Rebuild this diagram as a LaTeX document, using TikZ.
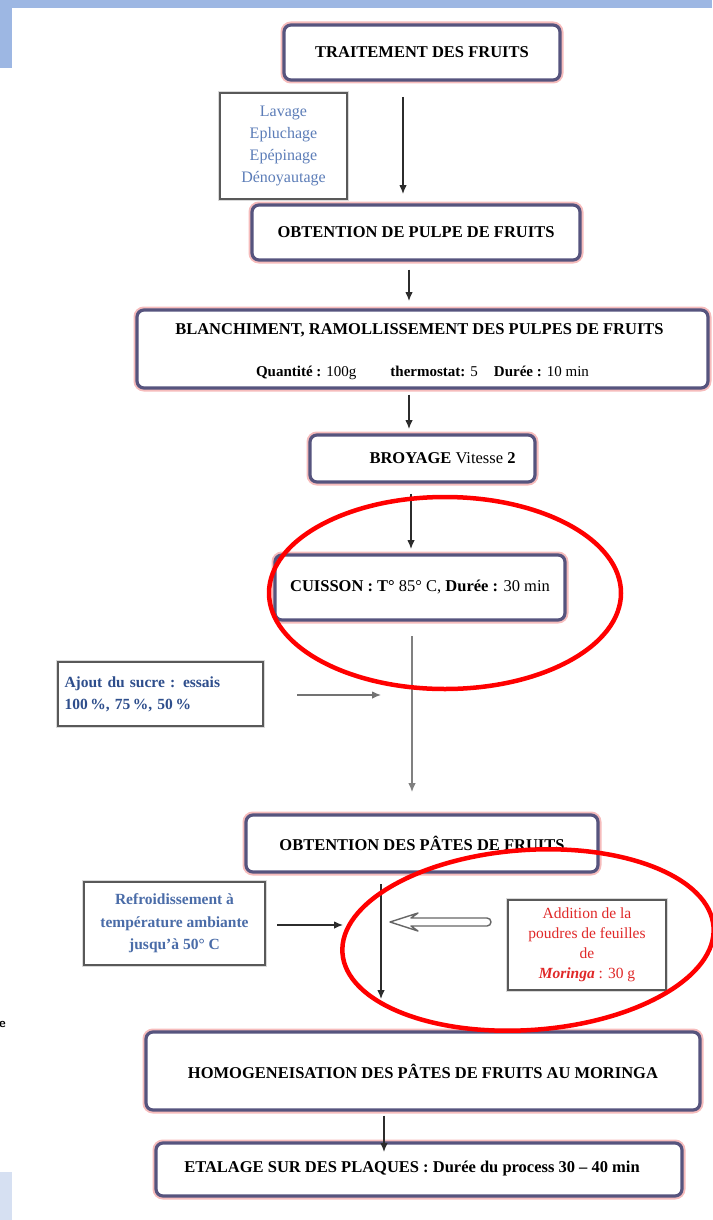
\documentclass[tikz,border=0pt]{standalone}
\usepackage{fontspec}
\setmainfont{Liberation Serif}
\usetikzlibrary{arrows.meta}
\definecolor{barblue}{HTML}{9DB7E3}
\definecolor{lightbar}{HTML}{D6E0F2}
\definecolor{frame}{HTML}{56547E}
\definecolor{glow}{HTML}{F6BCBC}
\definecolor{txtblue}{HTML}{5C7DB8}
\definecolor{darkblue}{HTML}{2E4E8C}
\definecolor{midblue}{HTML}{4A6CA8}
\definecolor{redtxt}{HTML}{E02828}
\definecolor{linegray}{HTML}{2C2C2C}
\tikzset{
  stepbox/.style={draw=frame, line width=3.2pt, rounded corners=7pt, fill=white,
    preaction={draw=glow, line width=7pt},
    inner sep=0pt, font=\fontsize{16.5}{18}\selectfont\bfseries},
  sidebox/.style={draw=black!65, line width=1.8pt, fill=white, inner sep=0pt,
    preaction={draw=black!15, line width=3.5pt}},
  conn/.style={draw=linegray, line width=1.1pt, -{Latex[length=9pt,width=7.5pt]}},
  circle mark/.style={draw=red, line width=4.5pt},
}
\begin{document}
\begin{tikzpicture}[x=1pt,y=-1pt]
\useasboundingbox (0,0) rectangle (712,1220);
% decorative bars
\fill[barblue] (0,0) rectangle (712,8);
\fill[barblue] (0,0) rectangle (12,68);
\fill[lightbar] (0,1172) rectangle (12,1220);
\node[font=\fontsize{13}{13}\selectfont\sffamily\bfseries, anchor=west, inner sep=0pt] (cutE) at (-1,1024) {e};

% main boxes
\node[stepbox, minimum width=276pt, minimum height=55pt] (b1) at (422,52.5) {\raisebox{-2pt}{TRAITEMENT DES FRUITS}};
\node[sidebox, minimum width=127pt, minimum height=106pt, align=center,
  font=\fontsize{16}{21.8}\selectfont, text=txtblue] (lav) at (283.5,146)
  {Lavage\\Epluchage\\Epépinage\\Dénoyautage};
\node[stepbox, minimum width=328pt, minimum height=55pt] (b2) at (416,232.5) {OBTENTION DE PULPE DE FRUITS};
\node[stepbox, minimum width=571pt, minimum height=78pt, align=center] (b3) at (422.5,349)
  {\\[-2pt]\hspace*{-6pt}BLANCHIMENT, RAMOLLISSEMENT DES PULPES DE FRUITS\\[24pt]
   \fontsize{15}{17}\selectfont Quantité : \mdseries 100g\hspace{34pt}\bfseries thermostat: \mdseries 5\hspace{16pt}\bfseries Durée : \mdseries 10 min};
\node[stepbox, minimum width=225pt, minimum height=47pt] (b4) at (422.5,458.5)
  {\hspace*{40pt}BROYAGE \mdseries Vitesse \bfseries 2};
\node[stepbox, minimum width=290pt, minimum height=65pt] (b5) at (420,587.5)
  {\raisebox{-6pt}{CUISSON : T° \mdseries 85° C, \bfseries Durée : \mdseries 30 min}};
\node[sidebox, minimum width=205pt, minimum height=64pt, align=left,
  font=\fontsize{15.5}{22}\selectfont\bfseries, text=darkblue, text width=192pt] (sug) at (160.5,694)
  {Ajout du sucre : essais\\100\,\%, 75\,\%, 50\,\%};
\node[stepbox, minimum width=352pt, minimum height=57pt] (b6) at (422,843.5)
  {\raisebox{-7pt}{OBTENTION DES PÂTES DE FRUITS}};
\node[sidebox, minimum width=181pt, minimum height=83pt, align=center,
  font=\fontsize{15.5}{22.5}\selectfont\bfseries, text=midblue] (ref) at (174.5,923.5)
  {Refroidissement à\\température ambiante\\jusqu'à 50° C};
\node[sidebox, minimum width=158pt, minimum height=90pt, align=center,
  font=\fontsize{15.5}{20}\selectfont, text=redtxt] (add) at (587,945)
  {Addition de la\\poudres de feuilles\\de\\\textbf{\textit{Moringa}} : 30 g};
\node[stepbox, minimum width=554pt, minimum height=78pt] (b7) at (423,1071)
  {HOMOGENEISATION DES PÂTES DE FRUITS AU MORINGA};
\node[stepbox, minimum width=526pt, minimum height=53pt] (b8) at (419,1169.5)
  {\hspace*{-14pt}\raisebox{6pt}{ETALAGE SUR DES PLAQUES : Durée du process 30 -- 40 min}};

% connectors
\coordinate (a1s) at (403,97);
\coordinate (a1e) at (403,194);
\draw[conn] (a1s) -- (a1e);
\draw[conn] (b2.south -| 409,0) ++(0,8) coordinate (a2s) -- (409,301) coordinate (a2e);
\draw[conn] (b3.south -| 409,0) ++(0,5) coordinate (a3s) -- (409,429) coordinate (a3e);
\draw[conn] (b4.south -| 411,0) ++(0,10) coordinate (a4s) -- (411,549) coordinate (a4e);
\coordinate (v1s) at (412,636);
\coordinate (v1e) at (412,792);
\draw[conn, draw=black!50] (v1s) -- (v1e);
\coordinate (h1s) at (297,695);
\coordinate (h1e) at (381,695);
\draw[conn, draw=black!55] (h1s) -- (h1e);
\coordinate (v2s) at (381,884);
\coordinate (v2e) at (381,999);
\draw[conn] (v2s) -- (v2e);
\coordinate (h2s) at (277,925);
\coordinate (h2e) at (343,925);
\draw[conn] (h2s) -- (h2e);
\draw[conn] (b7.south -| 384,0) ++(0,4) coordinate (a7s) -- (384,1152) coordinate (a7e);
% hollow arrow from the Moringa box
\draw[fill=white, draw=black!60, line width=1.4pt, line join=round]
  (390,922) -- (418,913) -- (411,918) -- (487,918)
  arc[start angle=90, end angle=-90, radius=4pt] -- (411,926) -- (418,931) -- cycle;

% red highlight ellipses
\draw[circle mark] (445,593) ellipse[x radius=176pt, y radius=96pt];
\draw[circle mark, rotate around={4:(528,940)}] (528,940) ellipse[x radius=186pt, y radius=90pt];
\end{tikzpicture}
\end{document}
